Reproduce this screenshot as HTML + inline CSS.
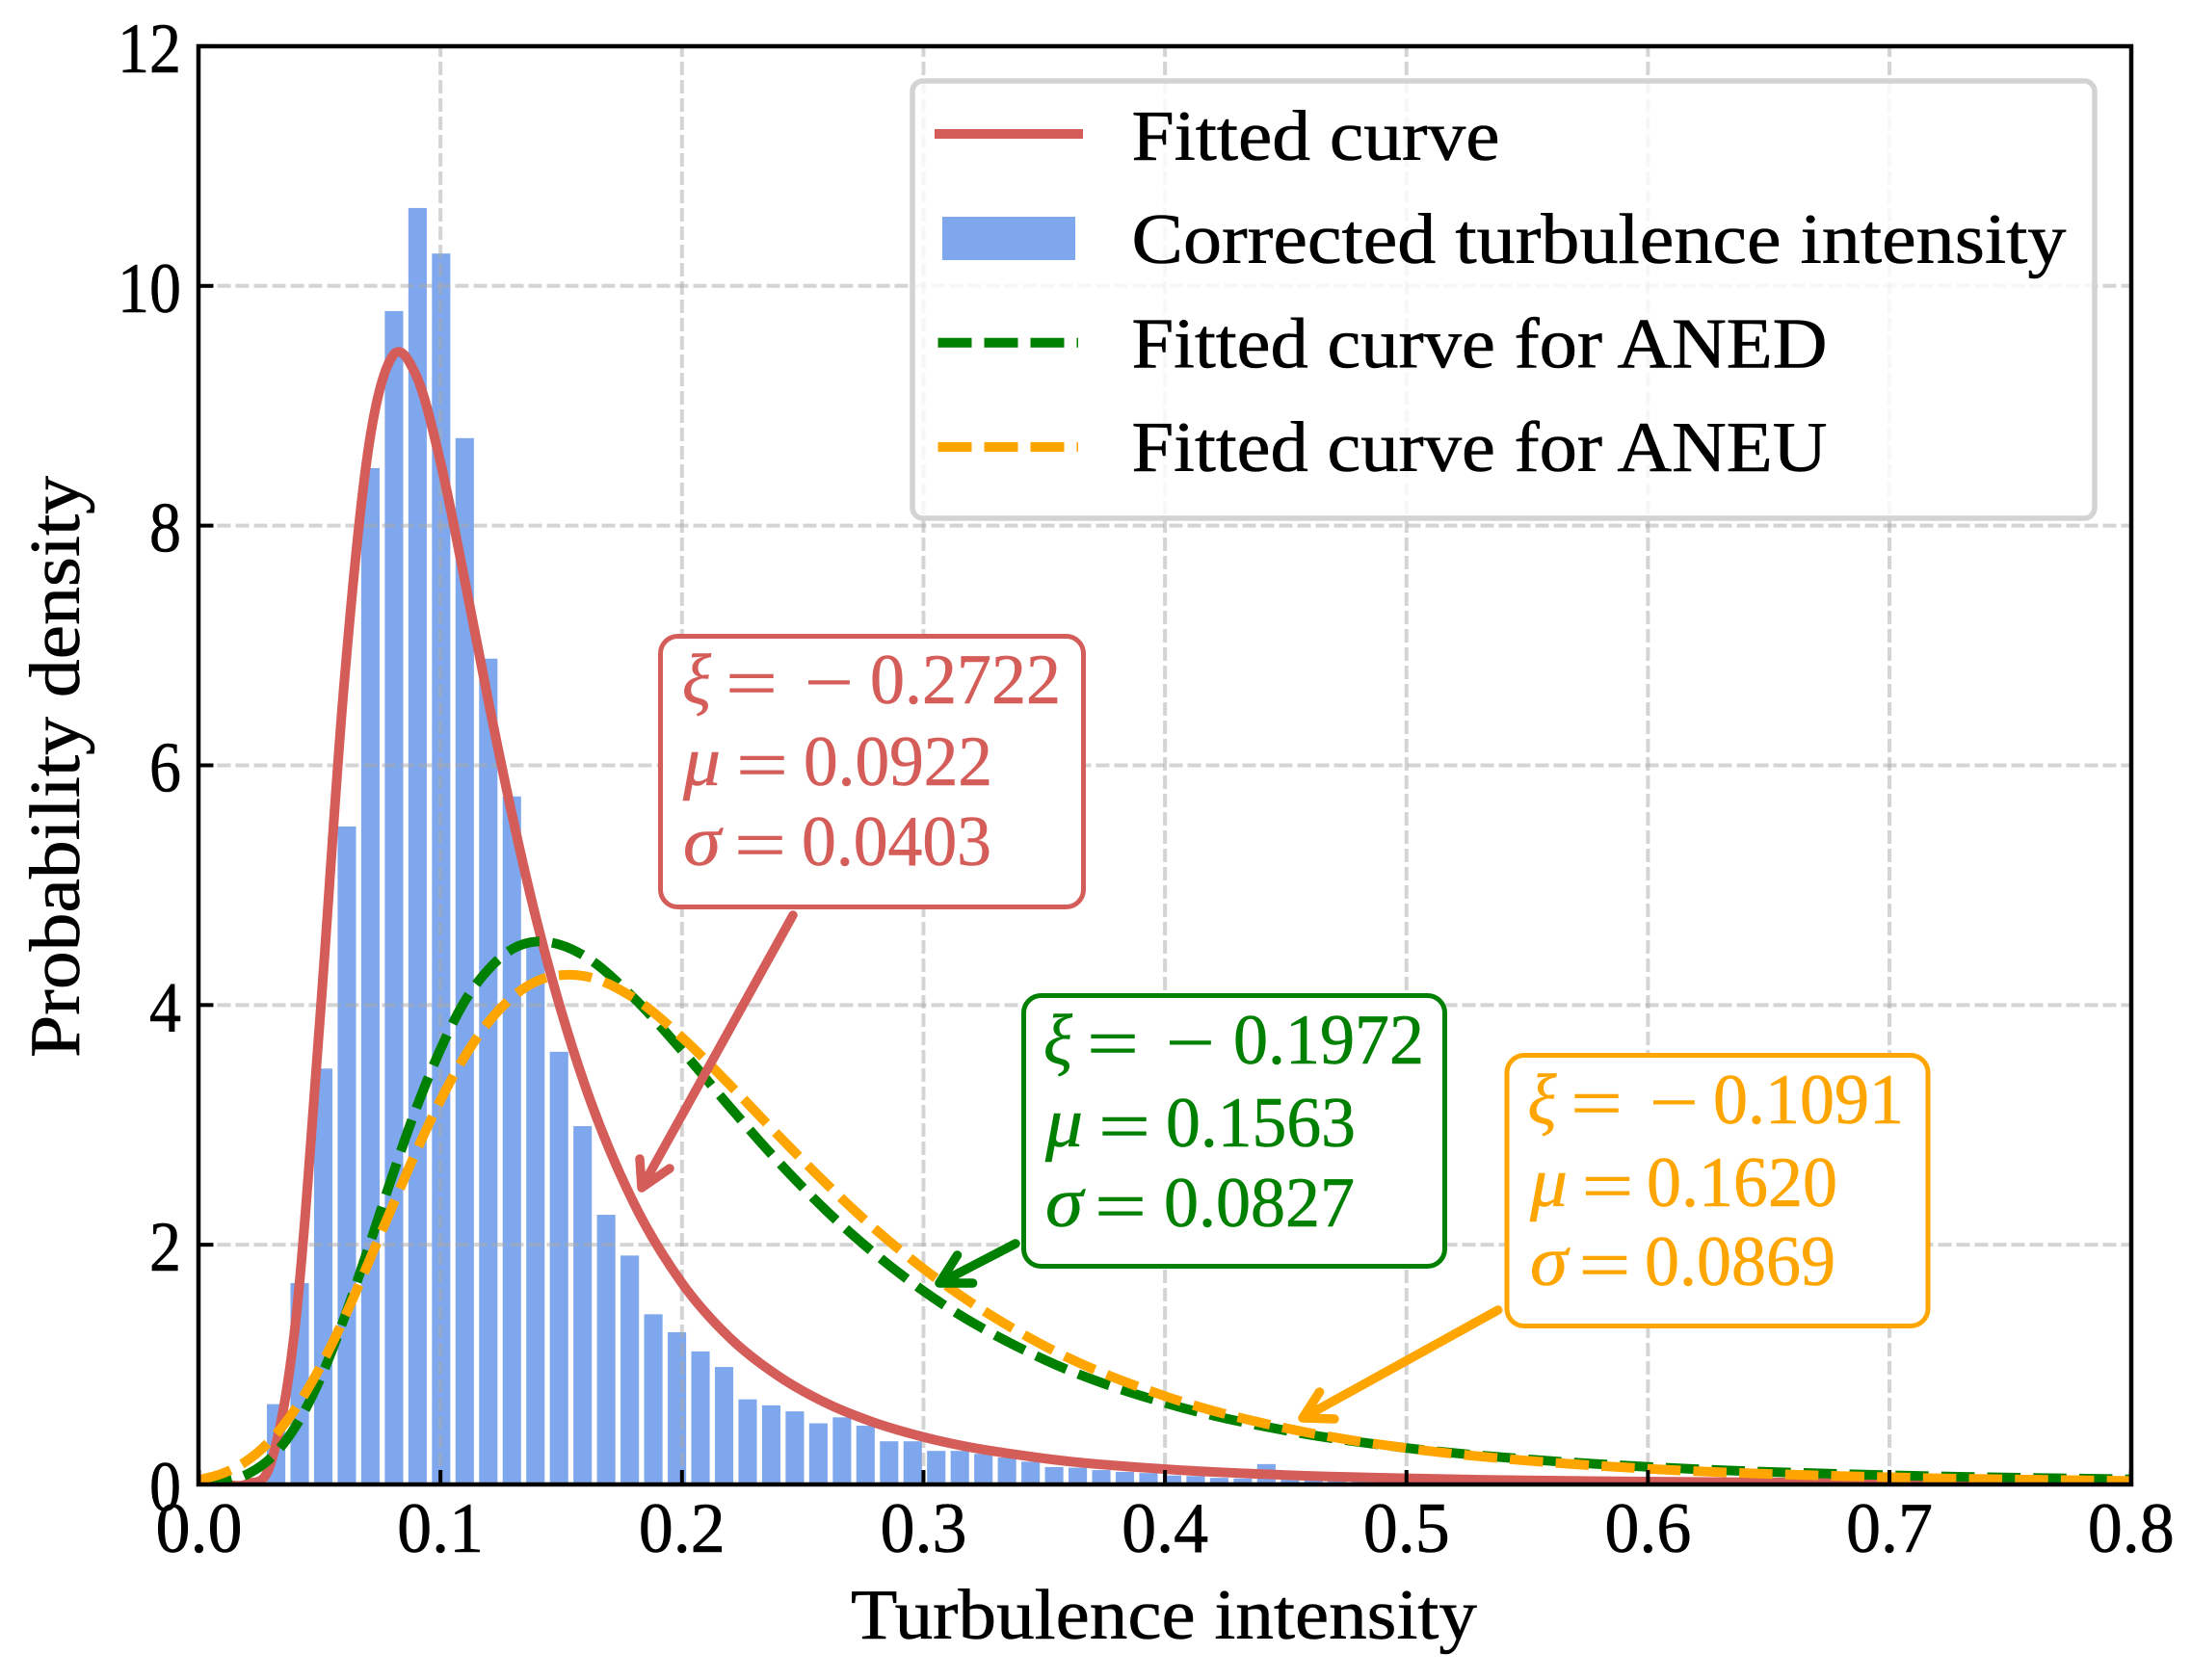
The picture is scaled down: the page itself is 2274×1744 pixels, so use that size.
<!DOCTYPE html>
<html lang="en">
<head>
<meta charset="utf-8">
<title>Turbulence intensity probability density</title>
<style>
html,body{margin:0;padding:0;background:#fff;}
svg{display:block;}
text{font-family:"Liberation Serif",serif;font-size:74px;stroke:#000;stroke-width:0.6px;}
.mi{font-style:italic;}
.red{fill:#d55d59;stroke:#d55d59;}
.grn{fill:#008000;stroke:#008000;}
.org{fill:#ffa500;stroke:#ffa500;}
</style>
</head>
<body>
<svg id="chart" xmlns="http://www.w3.org/2000/svg" width="2274" height="1744" viewBox="0 0 2274 1744">
  <defs>
    <clipPath id="plot-clip"><rect x="206" y="48" width="2006" height="1493"/></clipPath>
  </defs>
  <rect x="0" y="0" width="2274" height="1744" fill="#fff"/>
  <g id="bars" clip-path="url(#plot-clip)"></g>
  <g id="grid" clip-path="url(#plot-clip)"></g>
  <g id="curves" clip-path="url(#plot-clip)"></g>
  <g id="ticks"></g>
  <rect x="206" y="48" width="2006" height="1493" fill="none" stroke="#000" stroke-width="4.5"/>
  <g id="tick-labels"></g>

  <text x="883" y="1701" textLength="650" lengthAdjust="spacingAndGlyphs">Turbulence intensity</text>
  <text x="82" y="1098" transform="rotate(-90 82 1098)" textLength="604" lengthAdjust="spacingAndGlyphs">Probability density</text>

  <g>
    <rect x="947" y="84" width="1227" height="454" rx="11" ry="11" fill="#fff" fill-opacity="0.8" stroke="#d3d3d3" stroke-width="5.5"/>
    <line x1="970" y1="139" x2="1124" y2="139" stroke="#d55d59" stroke-width="10"/>
    <rect x="978" y="225" width="138" height="45" fill="#7fa7ee"/>
    <line x1="973.5" y1="355.7" x2="1119" y2="355.7" stroke="#008000" stroke-width="10" stroke-dasharray="35 13"/>
    <line x1="973.5" y1="464" x2="1119" y2="464" stroke="#ffa500" stroke-width="10" stroke-dasharray="35 13"/>
    <text x="1174.5" y="166" textLength="382" lengthAdjust="spacingAndGlyphs">Fitted curve</text>
    <text x="1174.5" y="273" textLength="970" lengthAdjust="spacingAndGlyphs">Corrected turbulence intensity</text>
    <text x="1174.5" y="381.5" textLength="722" lengthAdjust="spacingAndGlyphs">Fitted curve for ANED</text>
    <text x="1174.5" y="489" textLength="722" lengthAdjust="spacingAndGlyphs">Fitted curve for ANEU</text>
  </g>

  <g>
    <path d="M823 950L666 1233M664 1203L666 1233L695 1213" fill="none" stroke="#d55d59" stroke-width="9.5" stroke-linecap="round" stroke-linejoin="round"/>
    <rect x="685.5" y="660.5" width="439" height="281" rx="18" ry="18" fill="#fff" stroke="#d55d59" stroke-width="5"/>
    <text class="mi red" x="708" y="730" textLength="30" lengthAdjust="spacingAndGlyphs">ξ</text>
    <text class="red" x="753" y="734" textLength="54" lengthAdjust="spacingAndGlyphs">=</text>
    <text class="red" x="835" y="733" textLength="51" lengthAdjust="spacingAndGlyphs">−</text>
    <text class="red" x="903" y="730" textLength="198" lengthAdjust="spacingAndGlyphs">0.2722</text>
    <text class="mi red" x="709" y="815" textLength="39" lengthAdjust="spacingAndGlyphs">μ</text>
    <text class="red" x="764" y="819" textLength="54" lengthAdjust="spacingAndGlyphs">=</text>
    <text class="red" x="834" y="815" textLength="196" lengthAdjust="spacingAndGlyphs">0.0922</text>
    <text class="mi red" x="709" y="898" textLength="39" lengthAdjust="spacingAndGlyphs">σ</text>
    <text class="red" x="762" y="902" textLength="54" lengthAdjust="spacingAndGlyphs">=</text>
    <text class="red" x="832" y="898" textLength="197" lengthAdjust="spacingAndGlyphs">0.0403</text>
  </g>

  <g>
    <path d="M1054 1291L975 1332M993.5 1303L975 1332L1009.6 1332" fill="none" stroke="#008000" stroke-width="9.5" stroke-linecap="round" stroke-linejoin="round"/>
    <rect x="1062.5" y="1033.5" width="437" height="281" rx="18" ry="18" fill="#fff" stroke="#008000" stroke-width="5"/>
    <text class="mi grn" x="1083" y="1104" textLength="30" lengthAdjust="spacingAndGlyphs">ξ</text>
    <text class="grn" x="1128" y="1108" textLength="54" lengthAdjust="spacingAndGlyphs">=</text>
    <text class="grn" x="1210" y="1107" textLength="51" lengthAdjust="spacingAndGlyphs">−</text>
    <text class="grn" x="1280" y="1104" textLength="198" lengthAdjust="spacingAndGlyphs">0.1972</text>
    <text class="mi grn" x="1085" y="1190" textLength="39" lengthAdjust="spacingAndGlyphs">μ</text>
    <text class="grn" x="1140" y="1194" textLength="54" lengthAdjust="spacingAndGlyphs">=</text>
    <text class="grn" x="1210" y="1190" textLength="197" lengthAdjust="spacingAndGlyphs">0.1563</text>
    <text class="mi grn" x="1085" y="1273" textLength="39" lengthAdjust="spacingAndGlyphs">σ</text>
    <text class="grn" x="1136" y="1277" textLength="54" lengthAdjust="spacingAndGlyphs">=</text>
    <text class="grn" x="1208" y="1273" textLength="198" lengthAdjust="spacingAndGlyphs">0.0827</text>
  </g>

  <g>
    <path d="M1554.7 1360L1352 1472M1369.5 1445L1352 1472L1385 1473" fill="none" stroke="#ffa500" stroke-width="9.5" stroke-linecap="round" stroke-linejoin="round"/>
    <rect x="1564" y="1095.5" width="437" height="281" rx="18" ry="18" fill="#fff" stroke="#ffa500" stroke-width="5"/>
    <text class="mi org" x="1585.5" y="1166" textLength="30" lengthAdjust="spacingAndGlyphs">ξ</text>
    <text class="org" x="1630" y="1170" textLength="54" lengthAdjust="spacingAndGlyphs">=</text>
    <text class="org" x="1712" y="1169" textLength="51" lengthAdjust="spacingAndGlyphs">−</text>
    <text class="org" x="1778" y="1166" textLength="198" lengthAdjust="spacingAndGlyphs">0.1091</text>
    <text class="mi org" x="1588" y="1252" textLength="39" lengthAdjust="spacingAndGlyphs">μ</text>
    <text class="org" x="1641.5" y="1256" textLength="54" lengthAdjust="spacingAndGlyphs">=</text>
    <text class="org" x="1709" y="1252" textLength="198" lengthAdjust="spacingAndGlyphs">0.1620</text>
    <text class="mi org" x="1588" y="1334" textLength="39" lengthAdjust="spacingAndGlyphs">σ</text>
    <text class="org" x="1638.5" y="1338" textLength="54" lengthAdjust="spacingAndGlyphs">=</text>
    <text class="org" x="1707" y="1334" textLength="198" lengthAdjust="spacingAndGlyphs">0.0869</text>
  </g>
</svg>
<script>
var xTickValues = [0.0, 0.1, 0.2, 0.3, 0.4, 0.5, 0.6, 0.7, 0.8];
var xTickLabels = ["0.0", "0.1", "0.2", "0.3", "0.4", "0.5", "0.6", "0.7", "0.8"];
var yTickValues = [0, 2, 4, 6, 8, 10, 12];
var yTickLabels = ["0", "2", "4", "6", "8", "10", "12"];

var histogramValues = [0.67, 1.68, 3.47, 5.49, 8.48, 9.79, 10.65, 10.27, 8.73, 6.89, 5.74, 4.55, 3.61, 2.99, 2.25, 1.91, 1.42, 1.27, 1.11, 0.98, 0.71, 0.66, 0.61, 0.51, 0.56, 0.49, 0.36, 0.36, 0.28, 0.28, 0.255, 0.225, 0.19, 0.145, 0.14, 0.12, 0.105, 0.095, 0.075, 0.07, 0.055, 0.05, 0.17, 0.05, 0.045, 0.04, 0.035, 0.03, 0.03, 0.025, 0.02, 0.02, 0.015, 0.015, 0.01, 0.01];

var curveIntensity = [0, 0.01, 0.02, 0.03, 0.04, 0.05, 0.06, 0.07, 0.08, 0.09, 0.10, 0.11, 0.12, 0.13, 0.14, 0.15, 0.16, 0.18, 0.20, 0.22, 0.24, 0.26, 0.28, 0.30, 0.35, 0.40, 0.45, 0.50, 0.55, 0.60, 0.70, 0.80];
var fittedDensity = [0, 0, 0.0048, 0.193, 1.354, 3.856, 6.654, 8.62, 9.41, 9.25, 8.53, 7.55, 6.52, 5.555, 4.69, 3.95, 3.32, 2.35, 1.68, 1.22, 0.903, 0.676, 0.514, 0.396, 0.217, 0.1275, 0.0787, 0.0508, 0.034, 0.0236, 0.0122, 0.0068];
var anedDensity = [0.0049, 0.0244, 0.0856, 0.226, 0.484, 0.871, 1.381, 1.963, 2.57, 3.14, 3.63, 4.03, 4.30, 4.47, 4.53, 4.50, 4.405, 4.06, 3.62, 3.145, 2.69, 2.28, 1.923, 1.614, 1.042, 0.680, 0.450, 0.304, 0.210, 0.147, 0.0766, 0.0423];
var aneuDensity = [0.0374, 0.0938, 0.1997, 0.3756, 0.633, 0.972, 1.382, 1.842, 2.316, 2.78, 3.205, 3.57, 3.86, 4.07, 4.20, 4.25, 4.24, 4.06, 3.73, 3.33, 2.91, 2.505, 2.13, 1.80, 1.157, 0.737, 0.470, 0.303, 0.1985, 0.131, 0.060, 0.029];

var SVG_NS = "http://www.w3.org/2000/svg";
var BIN_START = 0.02813;
var BIN_STEP = 0.009763;
var BAR_WIDTH = 0.00762;

function xScale(v) { return 206.5 + 2506.5 * v; }
function yScale(v) { return 1541 - 124.42 * v; }
function make(tag) { return document.createElementNS(SVG_NS, tag); }

var barsGroup = document.getElementById("bars");
histogramValues.forEach(function (value, i) {
  var rect = make("rect");
  
  
  var left = BIN_START + i * BIN_STEP;
  rect.setAttribute("x", xScale(left));
  rect.setAttribute("width", xScale(left + BAR_WIDTH) - xScale(left));
  rect.setAttribute("y", yScale(value));
  rect.setAttribute("height", yScale(0) - 2 - yScale(value));
  rect.setAttribute("fill", "#7fa7ee");
  barsGroup.appendChild(rect);
});

var gridGroup = document.getElementById("grid");
xTickValues.slice(1, -1).forEach(function (v) {
  var line = make("line");
  
  
  line.setAttribute("x1", xScale(v));
  line.setAttribute("x2", xScale(v));
  line.setAttribute("y1", yScale(0));
  line.setAttribute("y2", yScale(12));
  line.setAttribute("stroke", "#a9a9a9");
  line.setAttribute("stroke-opacity", "0.5");
  line.setAttribute("stroke-width", "4");
  line.setAttribute("stroke-dasharray", "14 5");
  gridGroup.appendChild(line);
});
yTickValues.slice(1, -1).forEach(function (v) {
  var line = make("line");
  
  
  line.setAttribute("x1", xScale(0));
  line.setAttribute("x2", xScale(0.8));
  line.setAttribute("y1", yScale(v));
  line.setAttribute("y2", yScale(v));
  line.setAttribute("stroke", "#a9a9a9");
  line.setAttribute("stroke-opacity", "0.5");
  line.setAttribute("stroke-width", "4");
  line.setAttribute("stroke-dasharray", "14 5");
  gridGroup.appendChild(line);
});

function smoothPath(xs, ys) {
  var px = xs.map(xScale);
  var py = ys.map(yScale);
  var n = px.length;
  var slopes = [];
  var tangents = [];
  var i;
  for (i = 0; i < n - 1; i++) { slopes.push((py[i + 1] - py[i]) / (px[i + 1] - px[i])); }
  tangents.push(slopes[0]);
  for (i = 1; i < n - 1; i++) {
    var h0 = px[i] - px[i - 1];
    var h1 = px[i + 1] - px[i];
    tangents.push((h1 * slopes[i - 1] + h0 * slopes[i]) / (h0 + h1));
  }
  tangents.push(slopes[n - 2]);
  var d = "M" + px[0].toFixed(2) + " " + py[0].toFixed(2);
  for (i = 0; i < n - 1; i++) {
    var h = (px[i + 1] - px[i]) / 3;
    d += "C" + (px[i] + h).toFixed(2) + " " + (py[i] + h * tangents[i]).toFixed(2) + " " +
      (px[i + 1] - h).toFixed(2) + " " + (py[i + 1] - h * tangents[i + 1]).toFixed(2) + " " +
      px[i + 1].toFixed(2) + " " + py[i + 1].toFixed(2);
  }
  return d;
}

var curvesGroup = document.getElementById("curves");

var fittedPath = make("path");


fittedPath.setAttribute("d", smoothPath(curveIntensity, fittedDensity));
fittedPath.setAttribute("fill", "none");
fittedPath.setAttribute("stroke", "#d55d59");
fittedPath.setAttribute("stroke-width", "10");
curvesGroup.appendChild(fittedPath);

var anedPath = make("path");


anedPath.setAttribute("d", smoothPath(curveIntensity, anedDensity));
anedPath.setAttribute("fill", "none");
anedPath.setAttribute("stroke", "#008000");
anedPath.setAttribute("stroke-width", "10");
anedPath.setAttribute("stroke-dasharray", "34.5 13.2");
curvesGroup.appendChild(anedPath);

var aneuPath = make("path");


aneuPath.setAttribute("d", smoothPath(curveIntensity, aneuDensity));
aneuPath.setAttribute("fill", "none");
aneuPath.setAttribute("stroke", "#ffa500");
aneuPath.setAttribute("stroke-width", "10");
aneuPath.setAttribute("stroke-dasharray", "34.5 13.2");
curvesGroup.appendChild(aneuPath);

var ticksGroup = document.getElementById("ticks");
var labelsGroup = document.getElementById("tick-labels");

xTickValues.forEach(function (v, i) {
  var tick = make("line");
  
  
  tick.setAttribute("x1", xScale(v));
  tick.setAttribute("x2", xScale(v));
  tick.setAttribute("y1", yScale(0));
  tick.setAttribute("y2", yScale(0) - 15);
  tick.setAttribute("stroke", "#000");
  tick.setAttribute("stroke-width", "4");
  ticksGroup.appendChild(tick);

  var label = make("text");
  
  
  label.setAttribute("x", xScale(v));
  label.setAttribute("y", 1611);
  label.setAttribute("text-anchor", "middle");
  label.setAttribute("textLength", "90");
  label.setAttribute("lengthAdjust", "spacingAndGlyphs");
  label.textContent = xTickLabels[i];
  labelsGroup.appendChild(label);
});

yTickValues.forEach(function (v, i) {
  var tick = make("line");
  
  
  tick.setAttribute("x1", xScale(0));
  tick.setAttribute("x2", xScale(0) + 15);
  tick.setAttribute("y1", yScale(v));
  tick.setAttribute("y2", yScale(v));
  tick.setAttribute("stroke", "#000");
  tick.setAttribute("stroke-width", "4");
  ticksGroup.appendChild(tick);

  var label = make("text");
  
  
  label.setAttribute("x", 188);
  label.setAttribute("y", yScale(v) + 27);
  label.setAttribute("text-anchor", "end");
  label.setAttribute("textLength", yTickLabels[i].length > 1 ? "66" : "33");
  label.setAttribute("lengthAdjust", "spacingAndGlyphs");
  label.textContent = yTickLabels[i];
  labelsGroup.appendChild(label);
});
</script>
</body>
</html>
